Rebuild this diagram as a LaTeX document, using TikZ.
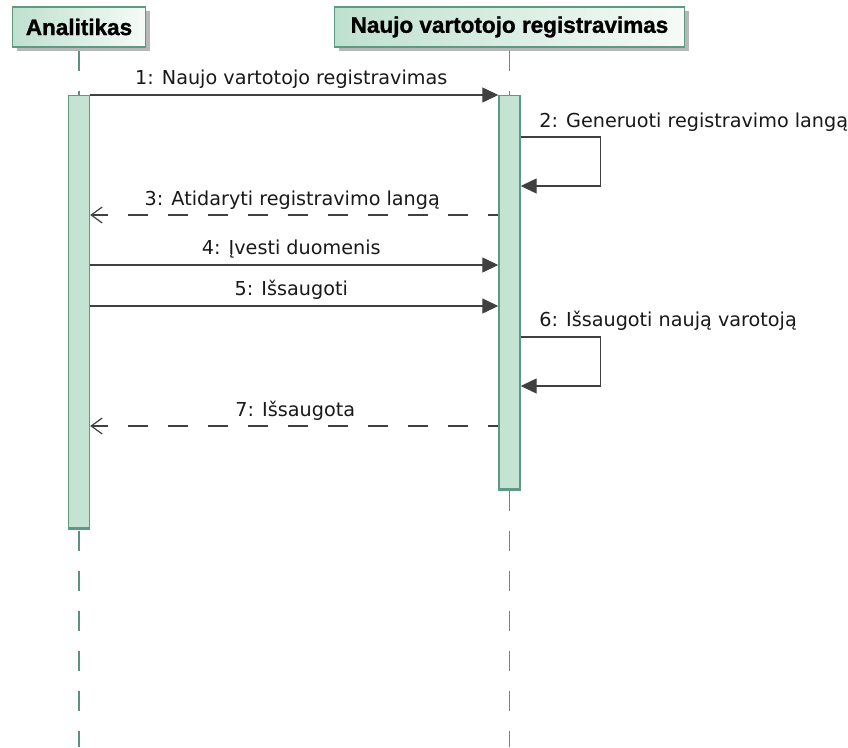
\documentclass[tikz,border=0pt]{standalone}
\usepackage{fontspec}
\setmainfont{DejaVu Sans}
\newfontfamily\hdrfont{Liberation Sans}[FakeBold=1.2]
\usetikzlibrary{arrows.meta,shadows}

\definecolor{lifeln}{HTML}{5F8F7E}
\definecolor{actfill}{HTML}{C4E3D3}
\definecolor{actdraw}{HTML}{5E9A82}
\definecolor{msgcol}{HTML}{404040}
\definecolor{hdrleft}{HTML}{BFE0CF}
\definecolor{hdrright}{HTML}{F6FBF8}

\tikzset{
  actor/.style={draw=actdraw, line width=1.2pt, left color=hdrleft, right color=hdrright,
    minimum height=40pt, inner sep=0pt, text=black,
    font=\hdrfont\bfseries\fontsize{22.5}{26}\selectfont,
    drop shadow={shadow xshift=4pt, shadow yshift=-4pt, fill=black!35, opacity=0.8}},
  lifeline/.style={draw=lifeln, line width=1.6pt, dash pattern=on 20pt off 20pt},
  act/.style={draw=actdraw, fill=actfill, line width=1.4pt, minimum width=21pt, inner sep=0pt},
  msg/.style={draw=msgcol, line width=1.3pt, -{Triangle[length=16pt,width=15pt]}},
  ret/.style={draw=msgcol, line width=1.3pt, dash pattern=on 20pt off 20pt, dash phase=10pt,
    -{Straight Barb[length=11pt,width=16pt,line width=1.2pt]}},
  lbl/.style={font=\fontsize{19.2}{22}\selectfont, text=black!90, inner sep=0pt},
}

\begin{document}
\begin{tikzpicture}[x=1pt,y=-1pt]
  \fill[white] (0,0) rectangle (848,747);
  \useasboundingbox (0,0) rectangle (848,747);

  % message levels
  \coordinate (bottom) at (0,747);
  \coordinate (y1) at (0,95);
  \coordinate (y2a) at (0,137);
  \coordinate (y2b) at (0,186);
  \coordinate (y3) at (0,215);
  \coordinate (y4) at (0,265);
  \coordinate (y5) at (0,306);
  \coordinate (y6a) at (0,337);
  \coordinate (y6b) at (0,386);
  \coordinate (y7) at (0,426);

  % participants
  \node[actor, minimum width=133pt] (an) at (79,27) {Analitikas};
  \node[actor, minimum width=350pt] (nv) at (509.5,27) {Naujo vartotojo registravimas};

  % lifelines, starting just below the header shadow
  \draw[lifeline] ([yshift=-3pt]an.south) -- (an.south |- bottom);
  \draw[lifeline] ([yshift=-3pt]nv.south) -- (nv.south |- bottom);

  % activations
  \node[act, anchor=north, minimum height=432pt] (a1) at (an.south |- y1) {};
  \node[act, anchor=north, minimum height=393pt] (a2) at (nv.south |- y1) {};
  \draw[actdraw, line width=3pt] (a1.south west) -- (a1.south east);
  \draw[actdraw, line width=3pt] (a2.south west) -- (a2.south east);

  % messages
  \draw[msg] (a1.east |- y1) -- node[lbl, anchor=base, xshift=-3pt, yshift=11pt] {1: Naujo vartotojo registravimas} (a2.west |- y1);
  \draw[msg] (a2.east |- y2a) node[lbl, anchor=base west, xshift=18pt, yshift=10pt] {2: Generuoti registravimo langą}
     -- ++(80,0) |- (a2.east |- y2b);
  \draw[ret] (a2.west |- y3) -- node[lbl, anchor=base, xshift=-2pt, yshift=10pt] {3: Atidaryti registravimo langą} (a1.east |- y3);
  \draw[msg] (a1.east |- y4) -- node[lbl, anchor=base, xshift=-3pt, yshift=11pt] {4: Įvesti duomenis} (a2.west |- y4);
  \draw[msg] (a1.east |- y5) -- node[lbl, anchor=base, xshift=-3pt, yshift=11pt] {5: Išsaugoti} (a2.west |- y5);
  \draw[msg] (a2.east |- y6a) node[lbl, anchor=base west, xshift=18pt, yshift=11pt] {6: Išsaugoti naują varotoją}
     -- ++(80,0) |- (a2.east |- y6b);
  \draw[ret] (a2.west |- y7) -- node[lbl, anchor=base, xshift=1pt, yshift=10pt] {7: Išsaugota} (a1.east |- y7);
\end{tikzpicture}
\end{document}
